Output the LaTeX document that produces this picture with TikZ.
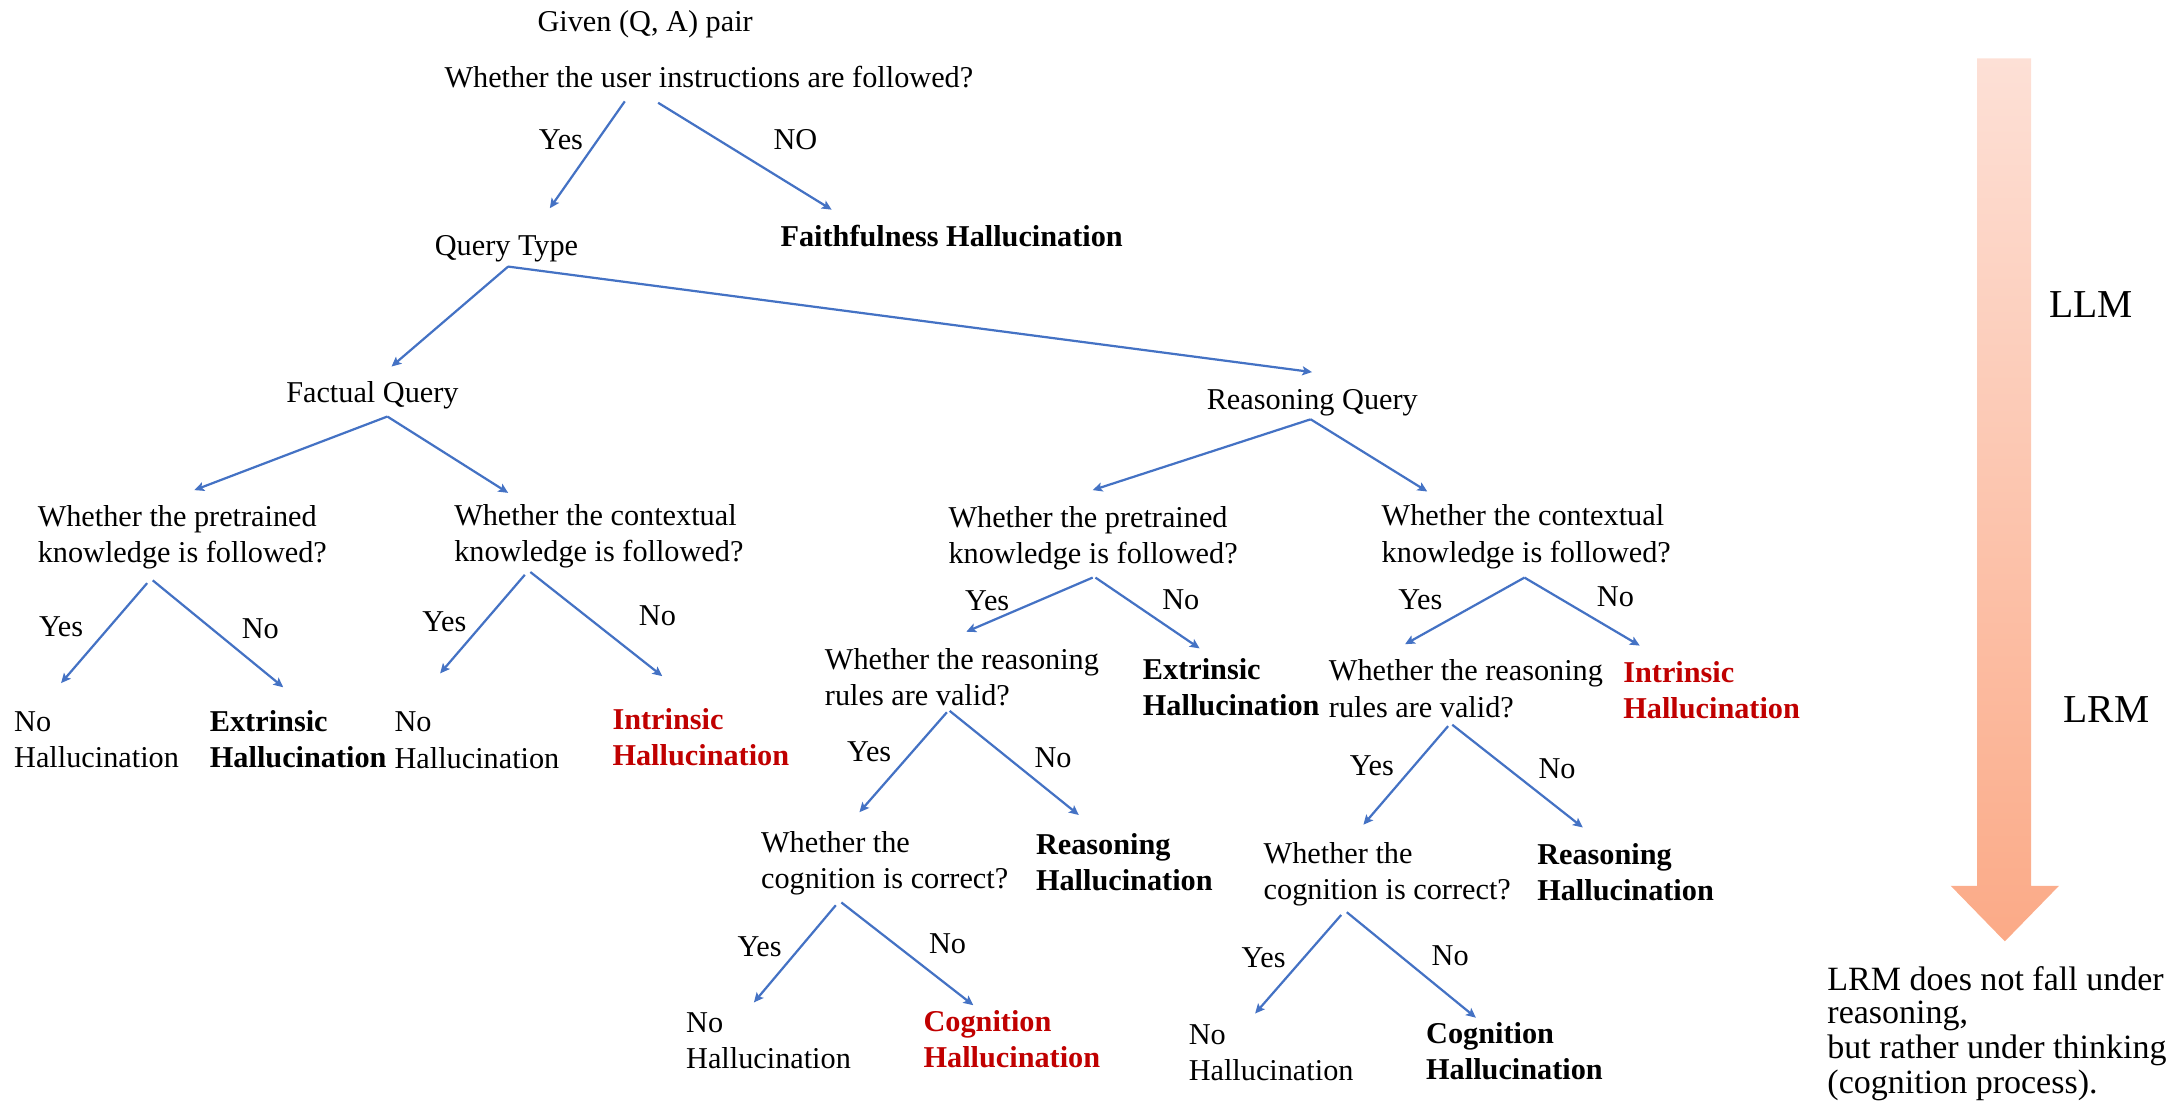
\documentclass[tikz,border=0pt]{standalone}
\usepackage{fontspec}
\setmainfont{Liberation Serif}
\usetikzlibrary{arrows.meta}
\definecolor{linkblue}{HTML}{4472C4}
\definecolor{hred}{HTML}{C00000}
\definecolor{shaftTop}{RGB}{253,224,214}
\definecolor{shaftBot}{RGB}{251,170,135}

\begin{document}
\begin{tikzpicture}[x=1pt,y=-1pt,
  txt/.style={inner sep=0pt, anchor=west, align=left, font=\fontsize{21.8}{26.2}\selectfont},
  bd/.style={txt, font=\fontsize{21.8}{26.2}\selectfont\bfseries},
  rd/.style={bd, text=hred},
  arr/.style={draw=linkblue, line width=1.6pt, -{Stealth[length=7pt,width=6.5pt,inset=1.5pt]}},
  side/.style={inner sep=0pt, anchor=west, font=\fontsize{28.5}{30}\selectfont},
  note/.style={inner sep=0pt, anchor=west, align=left, font=\fontsize{24.5}{23.7}\selectfont}]
\useasboundingbox (0,0) rectangle (1568,803);

% ---------- LLM -> LRM arrow ----------
\shade[top color=shaftTop, bottom color=shaftBot]
  (1424,42) -- (1463,42) -- (1463,638) -- (1483,638) -- (1444,678)
  -- (1405,638) -- (1424,638) -- cycle;
\node[side] (llm) at (1476,219.5) {LLM};
\node[side] (lrm) at (1486,511) {LRM};
\node[note] (remark) at (1316,745.5) {LRM does not fall under\strut\\reasoning,\strut\\but rather under thinking\strut\\(cognition process).\strut};

% ---------- top of the tree ----------
\node[txt] (given) at (387,17.5) {Given (Q, A) pair\strut};
\node[txt] (q1) at (320,57.5) {Whether the user instructions are followed?\strut};
\node[txt] (yes0) at (388,102.5) {Yes\strut};
\node[txt] (no0) at (557,102.5) {NO\strut};
\node[txt] (qtype) at (313,178.5) {Query Type\strut};
\node[bd] (faith) at (562,172.5) {Faithfulness Hallucination\strut};
\node[txt] (fact) at (206,284.5) {Factual Query\strut};
\node[txt] (reas) at (869,289.5) {Reasoning Query\strut};

% ---------- factual branch ----------
\node[txt] (fpre) at (27,387) {Whether the pretrained\strut\\knowledge is followed?\strut};
\node[txt] (fctx) at (327,386) {Whether the contextual\strut\\knowledge is followed?\strut};
\node[txt] (fy1) at (28,453.5) {Yes\strut};
\node[txt] (fn1) at (174,454.5) {No\strut};
\node[txt] (fy2) at (304,449.5) {Yes\strut};
\node[txt] (fn2) at (460,445.5) {No\strut};
\node[txt] (noh1) at (10,534.5) {No\strut\\Hallucination\strut};
\node[bd] (ext1) at (151,534.5) {Extrinsic\strut\\Hallucination\strut};
\node[txt] (noh2) at (284,535) {No\strut\\Hallucination\strut};
\node[rd] (int1) at (441,533) {Intrinsic\strut\\Hallucination\strut};

% ---------- reasoning branch ----------
\node[txt] (rpre) at (683,387.8) {Whether the pretrained\strut\\knowledge is followed?\strut};
\node[txt] (rctx) at (995,386.5) {Whether the contextual\strut\\knowledge is followed?\strut};
\node[txt] (ry1) at (695,434.5) {Yes\strut};
\node[txt] (rn1) at (837,433.5) {No\strut};
\node[txt] (ry2) at (1007,433.5) {Yes\strut};
\node[txt] (rn2) at (1150,431.5) {No\strut};
\node[txt] (rr1) at (594,489.8) {Whether the reasoning\strut\\rules are valid?\strut};
\node[bd] (ext2) at (823,497.1) {Extrinsic\strut\\Hallucination\strut};
\node[txt] (rr2) at (957,498.3) {Whether the reasoning\strut\\rules are valid?\strut};
\node[rd] (int2) at (1169,499.5) {Intrinsic\strut\\Hallucination\strut};
\node[txt] (y3) at (610,543.5) {Yes\strut};
\node[txt] (n3) at (745,547.5) {No\strut};
\node[txt] (y4) at (972,553.5) {Yes\strut};
\node[txt] (n4) at (1108,555.5) {No\strut};
\node[txt] (cg1) at (548,621.9) {Whether the\strut\\cognition is correct?\strut};
\node[bd] (rh1) at (746,623.1) {Reasoning\strut\\Hallucination\strut};
\node[txt] (cg2) at (910,629.7) {Whether the\strut\\cognition is correct?\strut};
\node[bd] (rh2) at (1107,630.3) {Reasoning\strut\\Hallucination\strut};
\node[txt] (y5) at (531,683.5) {Yes\strut};
\node[txt] (n5) at (669,681.5) {No\strut};
\node[txt] (y6) at (894,691.5) {Yes\strut};
\node[txt] (n6) at (1031,690.5) {No\strut};
\node[txt] (noh3) at (494,751.5) {No\strut\\Hallucination\strut};
\node[rd] (cog1) at (665,750.5) {Cognition\strut\\Hallucination\strut};
\node[txt] (noh4) at (856,760) {No\strut\\Hallucination\strut};
\node[bd] (cog2) at (1027,759.5) {Cognition\strut\\Hallucination\strut};

% ---------- connectors ----------
\draw[arr] ([shift={(130,15.5)}]q1.west) -- ([shift={(83,-28.5)}]qtype.west);
\draw[arr] ([shift={(154,16.5)}]q1.west) -- ([shift={(37,-21.5)}]faith.west);
\draw[arr] ([shift={(53,13.5)}]qtype.west) -- ([shift={(76,-20.5)}]fact.west);
\draw[arr] ([shift={(53,13.5)}]qtype.west) -- ([shift={(76,-21.5)}]reas.west);
\draw[arr] ([shift={(73,15.5)}]fact.west) -- ([shift={(113,-34)}]fpre.west);
\draw[arr] ([shift={(73,15.5)}]fact.west) -- ([shift={(39,-31)}]fctx.west);
\draw[arr] ([shift={(75,12.5)}]reas.west) -- ([shift={(104,-34.8)}]rpre.west);
\draw[arr] ([shift={(75,12.5)}]reas.west) -- ([shift={(33,-32.5)}]rctx.west);

\draw[arr] ([shift={(79,33)}]fpre.west) -- ([shift={(34,-42.5)}]noh1.west);
\draw[arr] ([shift={(83,31)}]fpre.west) -- ([shift={(53,-39.5)}]ext1.west);
\draw[arr] ([shift={(51,28)}]fctx.west) -- ([shift={(33,-50)}]noh2.west);
\draw[arr] ([shift={(55,26)}]fctx.west) -- ([shift={(36,-46)}]int1.west);

\draw[arr] ([shift={(104,28.2)}]rpre.west) -- ([shift={(102,-34.8)}]rr1.west);
\draw[arr] ([shift={(106,28.2)}]rpre.west) -- ([shift={(41,-30.1)}]ext2.west);
\draw[arr] ([shift={(103,29.5)}]rctx.west) -- ([shift={(55,-34.3)}]rr2.west);
\draw[arr] ([shift={(103,29.5)}]rctx.west) -- ([shift={(12,-34.5)}]int2.west);

\draw[arr] ([shift={(88,23.2)}]rr1.west) -- ([shift={(71,-36.9)}]cg1.west);
\draw[arr] ([shift={(90,22.2)}]rr1.west) -- ([shift={(31,-36.1)}]rh1.west);
\draw[arr] ([shift={(86,24.7)}]rr2.west) -- ([shift={(72,-35.7)}]cg2.west);
\draw[arr] ([shift={(89,23.7)}]rr2.west) -- ([shift={(33,-34.3)}]rh2.west);

\draw[arr] ([shift={(54,30.1)}]cg1.west) -- ([shift={(49,-29.5)}]noh3.west);
\draw[arr] ([shift={(58,28.1)}]cg1.west) -- ([shift={(36,-26.5)}]cog1.west);
\draw[arr] ([shift={(56,29.3)}]cg2.west) -- ([shift={(48,-30)}]noh4.west);
\draw[arr] ([shift={(60,27.3)}]cg2.west) -- ([shift={(36,-26.5)}]cog2.west);
\end{tikzpicture}
\end{document}
